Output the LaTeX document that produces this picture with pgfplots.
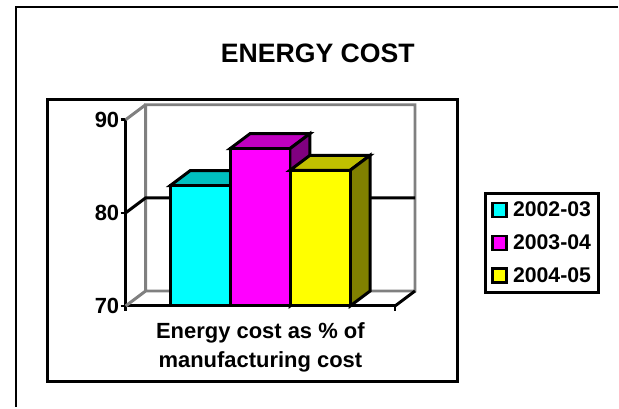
\documentclass[border=0pt]{standalone}
\usepackage{fontspec}
\setmainfont{Liberation Sans}
\usepackage{pgfplots}
\pgfplotsset{compat=1.18}
\definecolor{wallgray}{HTML}{808080}
\definecolor{cfront}{HTML}{00FFFF}
\definecolor{mfront}{HTML}{FF00FF}
\definecolor{yfront}{HTML}{FFFF00}
\definecolor{ctop}{HTML}{00C0C0}
\definecolor{mtop}{HTML}{C000C0}
\definecolor{mside}{HTML}{800080}
\definecolor{ytop}{HTML}{C0C000}
\definecolor{yside}{HTML}{808000}
\pgfplotsset{swatch/.style={legend image code/.code={\draw[line width=2.5pt,draw=black,fill=#1] (2pt,-7pt) rectangle (16pt,7pt);\path (19pt,0pt);}}}
\begin{document}
\begin{tikzpicture}[x=1pt,y=-1pt]
\path (0,0) rectangle (619,408);
\draw[line width=2pt] (619.5,7) -- (16,7) -- (16,408);
\draw[line width=3pt] (47.5,100) rectangle (459,382);
\node[font=\fontsize{26.7}{30}\selectfont\bfseries] at (318.5,53) {ENERGY COST};
\begin{axis}[
  at={(126pt,-306.7pt)}, anchor=south west,
  scale only axis, width=270pt, height=186.7pt,
  xmin=0, xmax=270, ymin=70, ymax=90,
  clip=false,
  axis x line*=bottom, axis y line*=left,
  axis line style={line width=3pt,-},
  tick style={line width=2.5pt,black},
  tick align=outside, major tick length=5pt,
  xtick={0,270}, xticklabels={,},
  ytick={70,80,90},
  tick label style={font=\fontsize{22}{26}\selectfont\bfseries},
  /pgf/number format/assume math mode=true,
  yticklabel style={xshift=2pt},
  xlabel={Energy cost as \% of\\manufacturing cost},
  xlabel style={align=center,font=\fontsize{22}{29}\selectfont\bfseries,yshift=-1pt},
  legend style={at={(axis cs:359,71.3)},anchor=south west,
    line width=3pt,draw=black,fill=white,
    font=\fontsize{21.3}{25}\selectfont\bfseries,
    row sep=12.5pt, inner xsep=6pt, inner ysep=6.5pt,
    cells={anchor=west}},
]
% walls
\addplot[forget plot,wallgray,line width=3pt] coordinates {(20,71.607)(20,91.607)(290,91.607)(290,71.607)(20,71.607)(0,70)};
\addplot[forget plot,wallgray,line width=3pt] coordinates {(0,90)(20,91.607)};
\addplot[forget plot,black,line width=3pt] coordinates {(0,80)(20,81.607)(290,81.607)};
\addplot[forget plot,black,line width=3pt] coordinates {(270,70)(290,71.607)};
% cyan
\addplot[forget plot,draw=black,fill=ctop,line width=3pt] coordinates {(44.7,82.93)(64.7,84.537)(124.7,84.537)(104.7,82.93)} --cycle;
\addplot[ybar,bar width=60,bar shift=0,draw=black,fill=cfront,line width=3pt,swatch=cfront] coordinates {(74.7,82.93)};
\addlegendentry{2002-03}
% magenta
\addplot[forget plot,draw=black,fill=mtop,line width=3pt] coordinates {(104.7,86.9)(124.7,88.507)(184.7,88.507)(164.7,86.9)} --cycle;
\addplot[forget plot,draw=black,fill=mside,line width=3pt] coordinates {(164.7,86.9)(184.7,88.507)(184.7,71.607)(164.7,70)} --cycle;
\addplot[ybar,bar width=60,bar shift=0,draw=black,fill=mfront,line width=3pt,swatch=mfront] coordinates {(134.7,86.9)};
\addlegendentry{2003-04}
% yellow
\addplot[forget plot,draw=black,fill=ytop,line width=3pt] coordinates {(164.7,84.57)(184.7,86.177)(245,86.177)(225,84.57)} --cycle;
\addplot[forget plot,draw=black,fill=yside,line width=3pt] coordinates {(225,84.57)(245,86.177)(245,71.607)(225,70)} --cycle;
\addplot[ybar,bar width=60,bar shift=0,draw=black,fill=yfront,line width=3pt,swatch=yfront] coordinates {(195,84.57)};
\addlegendentry{2004-05}
\end{axis}
\end{tikzpicture}
\end{document}
